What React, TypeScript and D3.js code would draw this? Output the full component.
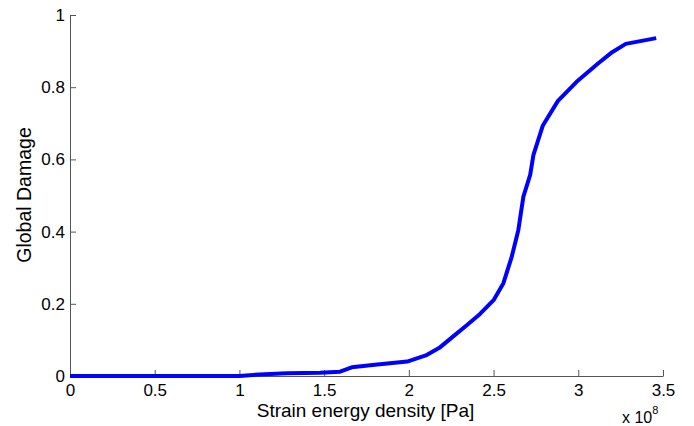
import React, { useRef, useEffect } from 'react'
import * as d3 from 'd3'

// strain energy density (x 10^8 Pa)
const energy = [0, 0.5, 0.885, 1.0, 1.08, 1.28, 1.476, 1.594, 1.663, 1.8, 1.99, 2.1, 2.18, 2.26, 2.34, 2.42, 2.5, 2.558, 2.607, 2.646, 2.676, 2.716, 2.735, 2.79, 2.88, 2.99, 3.12, 3.2, 3.28, 3.46]
// global damage
const damage = [0, 0, 0, 0, 0.003, 0.0075, 0.009, 0.012, 0.024, 0.031, 0.040, 0.057, 0.078, 0.109, 0.14, 0.172, 0.21, 0.257, 0.33, 0.404, 0.497, 0.557, 0.612, 0.693, 0.762, 0.815, 0.867, 0.897, 0.920, 0.936]

const xTicks = [0, 0.5, 1, 1.5, 2, 2.5, 3, 3.5]
const yTicks = [0, 0.2, 0.4, 0.6, 0.8, 1]

const W = 694
const H = 426
const M = { left: 70, right: 31, top: 15, bottom: 50 }

export default function App() {
  const ref = useRef<SVGSVGElement>(null)

  useEffect(() => {
    const svg = d3.select(ref.current)
    svg.selectAll('*').remove()

    const x = d3.scaleLinear().domain([0, 3.5]).range([M.left, W - M.right])
    const y = d3.scaleLinear().domain([0, 1]).range([H - M.bottom, M.top])

    const font = '"Liberation Sans", Arial, Helvetica, sans-serif'

    // x axis, ticks pointing inward
    const gx = svg.append('g')
      .attr('transform', `translate(0,${H - M.bottom})`)
      .call(d3.axisBottom(x).tickValues(xTicks).tickSize(-6).tickSizeOuter(0).tickFormat(d => String(d)))
    gx.select('.domain').attr('stroke', '#555').attr('stroke-width', 1)
    gx.selectAll('.tick line').attr('stroke', '#555')
    gx.selectAll('.tick text')
      .attr('y', 19.5).attr('dy', 0)
      .attr('fill', '#000').attr('font-size', 17).attr('font-family', font)

    // y axis
    const gy = svg.append('g')
      .attr('transform', `translate(${M.left},0)`)
      .call(d3.axisLeft(y).tickValues(yTicks).tickSize(-6).tickSizeOuter(0).tickFormat(d => String(d)))
    gy.select('.domain').attr('stroke', '#555').attr('stroke-width', 1)
    gy.selectAll('.tick line').attr('stroke', '#555')
    gy.selectAll('.tick text')
      .attr('x', -5)
      .attr('fill', '#000').attr('font-size', 17).attr('font-family', font)

    // damage curve
    const pts = energy.map((e, i) => [e, damage[i]] as [number, number])
    svg.append('path')
      .datum(pts)
      .attr('fill', 'none')
      .attr('stroke', '#0000ff')
      .attr('stroke-width', 4)
      .attr('stroke-linejoin', 'round')
      .attr('d', d3.line<[number, number]>().x(d => x(d[0])).y(d => y(d[1])))

    // labels
    svg.append('text')
      .attr('x', 365.5).attr('y', 416.5)
      .attr('text-anchor', 'middle')
      .attr('font-size', 19).attr('font-family', font)
      .text('Strain energy density [Pa]')

    svg.append('text')
      .attr('transform', `translate(31,195) rotate(-90)`)
      .attr('text-anchor', 'middle')
      .attr('font-size', 19.5).attr('font-family', font)
      .text('Global Damage')

    const mult = svg.append('text')
      .attr('x', 622).attr('y', 423)
      .attr('font-size', 16).attr('font-family', font)
    mult.append('tspan').text('x 10')
    mult.append('tspan').attr('dy', -9).attr('font-size', 11).text('8')
  }, [])

  return (
    <div>
      <svg width={W} height={H} ref={ref} style={{ display: 'block', position: 'absolute', left: 0, top: 0, background: '#fff' }} />
    </div>
  )
}
